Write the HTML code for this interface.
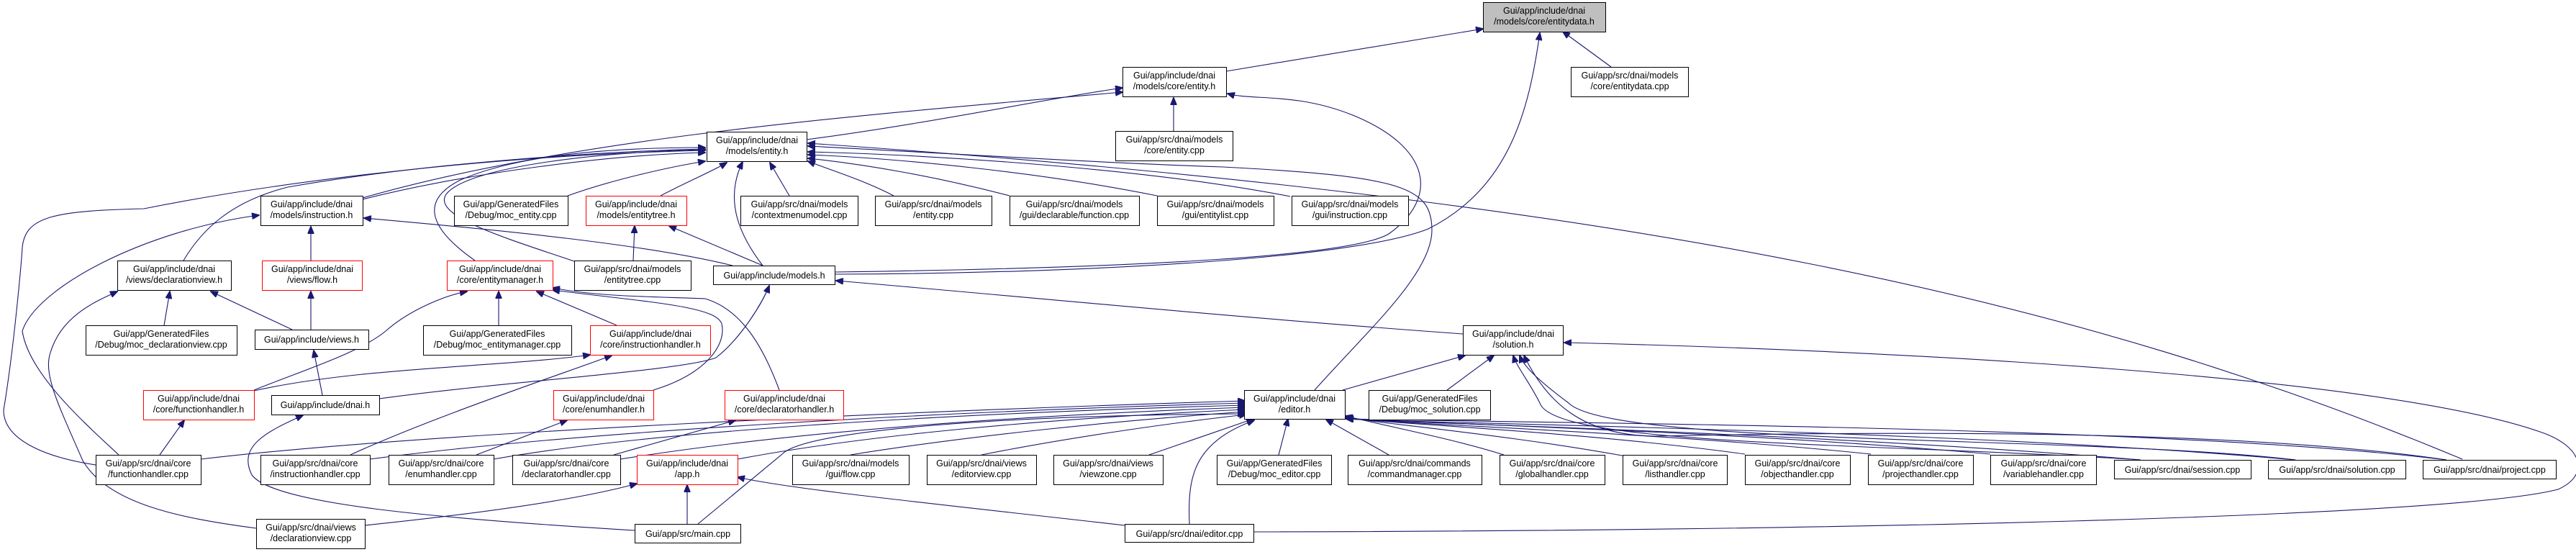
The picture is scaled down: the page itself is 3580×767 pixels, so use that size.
<!DOCTYPE html>
<html><head><meta charset="utf-8"><style>
html,body{margin:0;padding:0;background:#fff;}
svg{display:block;}
text{font-family:"Liberation Sans",Arial,sans-serif;font-size:12.5px;fill:#000;text-anchor:middle;}
.e{fill:none;stroke:#191970;stroke-width:1.1;marker-end:url(#a);}
.n{fill:#fff;stroke:#000;stroke-width:1;}
.r{fill:#fff;stroke:#ff0000;stroke-width:1;}
.g{fill:#bfbfbf;stroke:#000;stroke-width:1;}
</style></head><body>
<svg width="3580" height="767" viewBox="0 0 3580 767" xmlns="http://www.w3.org/2000/svg">
<defs><marker id="a" markerWidth="11" markerHeight="9" refX="10" refY="4.5" orient="auto" markerUnits="userSpaceOnUse"><path d="M0,0 L11,4.5 L0,9z" fill="#191970" stroke="#191970"/></marker></defs>

<!-- edges -->
<path class="e" d="M1704,99 L2061,40"/>
<path class="e" d="M2239,93 L2172,44"/>
<path class="e" d="M1160,381 C1500,380 1880,360 1985,318 C2100,260 2125,150 2140,46"/>
<path class="e" d="M1160,378 C1600,372 1880,355 1930,325 C2000,275 1990,205 1880,160 C1800,128 1740,140 1706,130"/>
<path class="e" d="M1121,194 C1300,170 1450,138 1560,122"/>
<path class="e" d="M504,275 C800,190 1200,160 1560,128"/>
<path class="e" d="M1631,182 L1631,136"/>
<path class="e" d="M1827,542 C1900,460 1990,380 1990,320 C1990,260 1950,245 1700,232 C1500,225 1300,212 1123,203"/>
<path class="e" d="M3422,638 C2900,420 2300,280 1123,199"/>
<path class="e" d="M1743,739 C2500,738 3400,720 3555,680 C3600,660 3590,620 3530,600 C3300,520 2600,486 2174,476"/>
<path class="e" d="M2033,464 C1700,440 1400,410 1162,390"/>
<path class="e" d="M1018,369 C900,340 700,320 506,303"/>
<path class="e" d="M1060,369 C1030,330 1005,280 1032,225"/>
<path class="e" d="M1060,369 L930,314"/>
<path class="e" d="M880,362 L882,314"/>
<path class="e" d="M798,363 C700,330 600,300 620,270 C650,230 850,210 980,208"/>
<path class="e" d="M660,362 C600,320 580,280 640,250 C720,215 850,205 980,205"/>
<path class="e" d="M504,277 C650,240 850,215 980,212"/>
<path class="e" d="M255,362 C280,320 320,280 400,260 C600,225 850,210 980,207"/>
<path class="e" d="M133,646 C60,635 5,610 5,570 C20,480 30,360 31,344 C35,300 77,293 200,290 C400,250 700,215 980,209"/>
<path class="e" d="M165,632 C120,590 40,520 31,460 C50,400 200,320 360,299"/>
<path class="e" d="M789,272 C850,250 930,232 980,224"/>
<path class="e" d="M918,272 C960,250 990,238 1010,226"/>
<path class="e" d="M1097,272 L1070,226"/>
<path class="e" d="M1242,272 C1200,250 1150,235 1123,224"/>
<path class="e" d="M1403,272 C1300,245 1200,228 1123,220"/>
<path class="e" d="M1608,272 C1450,240 1250,220 1123,215"/>
<path class="e" d="M1793,273 C1600,235 1300,215 1123,211"/>
<path class="e" d="M432,362 L432,315"/>
<path class="e" d="M432,458 L432,405"/>
<path class="e" d="M406,458 L293,405"/>
<path class="e" d="M228,452 L236,405"/>
<path class="e" d="M356,734 C250,720 150,700 115,640 C80,560 60,520 70,490 C85,440 130,420 163,405"/>
<path class="e" d="M448,549 L436,487"/>
<path class="e" d="M222,632 L256,584"/>
<path class="e" d="M353,542 C420,515 500,490 536,460 C570,430 620,410 649,405"/>
<path class="e" d="M353,543 C500,510 700,510 820,493"/>
<path class="e" d="M527,554 C700,530 950,515 995,497 C1030,470 1060,420 1069,397"/>
<path class="e" d="M882,737 C600,720 380,700 350,660 C330,620 370,600 421,577"/>
<path class="e" d="M693,452 L693,405"/>
<path class="e" d="M857,452 L746,405"/>
<path class="e" d="M908,542 C980,520 1010,480 1003,450 C995,425 900,420 768,403"/>
<path class="e" d="M1083,542 C1060,480 1030,430 980,415 C900,412 830,412 768,400"/>
<path class="e" d="M487,632 C600,580 780,520 850,494"/>
<path class="e" d="M662,632 L788,584"/>
<path class="e" d="M853,632 L1022,584"/>
<path class="e" d="M955,728 L955,674"/>
<path class="e" d="M507,730 C700,710 820,690 885,672"/>
<path class="e" d="M1563,730 C1300,700 1100,680 1025,663"/>
<path class="e" d="M279,638 C600,600 1300,570 1730,557"/>
<path class="e" d="M514,638 C800,600 1300,572 1730,560"/>
<path class="e" d="M686,638 C900,600 1300,575 1730,563"/>
<path class="e" d="M862,638 C1100,600 1400,578 1730,566"/>
<path class="e" d="M1025,638 C1200,605 1450,582 1730,569"/>
<path class="e" d="M1182,632 C1350,605 1550,585 1730,572"/>
<path class="e" d="M1364,632 C1500,605 1650,585 1732,576"/>
<path class="e" d="M1597,632 L1742,582"/>
<path class="e" d="M1777,632 L1790,582"/>
<path class="e" d="M1930,632 L1843,583"/>
<path class="e" d="M2090,632 C2020,610 1940,595 1870,578"/>
<path class="e" d="M2260,634 C2100,605 1950,592 1870,580"/>
<path class="e" d="M2425,631 C2200,600 1950,590 1871,581"/>
<path class="e" d="M2600,631 C2300,600 1950,590 1871,581"/>
<path class="e" d="M2766,631 C2400,598 1950,588 1871,581"/>
<path class="e" d="M2975,639 C2500,600 1950,588 1871,582"/>
<path class="e" d="M3190,639 C2700,596 1950,588 1871,582"/>
<path class="e" d="M3400,639 C3000,590 2100,588 1871,582"/>
<path class="e" d="M970,728 L1087,631 C1120,597 1400,577 1730,575"/>
<path class="e" d="M1653,728 C1650,660 1660,615 1743,584"/>
<path class="e" d="M1866,542 L2036,494"/>
<path class="e" d="M2011,542 L2076,494"/>
<path class="e" d="M2975,639 C2600,615 2160,620 2140,560 C2125,530 2108,510 2103,494"/>
<path class="e" d="M3190,639 C2900,605 2240,620 2180,560 C2140,530 2118,510 2112,494"/>
<path class="e" d="M3400,639 C3100,595 2600,600 2300,606 C2200,605 2150,560 2118,494"/>

<!-- nodes -->
<g>
<rect class="g" x="2061.5" y="3.5" width="170" height="41"/><text x="2146" y="19">Gui/app/include/dnai</text><text x="2146" y="34">/models/core/entitydata.h</text>
<rect class="n" x="1560.5" y="93.5" width="144" height="41"/><text x="1632" y="109">Gui/app/include/dnai</text><text x="1632" y="124">/models/core/entity.h</text>
<rect class="n" x="2183.5" y="93.5" width="163" height="41"/><text x="2265" y="109">Gui/app/src/dnai/models</text><text x="2265" y="124">/core/entitydata.cpp</text>
<rect class="n" x="982.5" y="183.5" width="139" height="41"/><text x="1052" y="199">Gui/app/include/dnai</text><text x="1052" y="214">/models/entity.h</text>
<rect class="n" x="1550.5" y="182.5" width="163" height="41"/><text x="1632" y="198">Gui/app/src/dnai/models</text><text x="1632" y="213">/core/entity.cpp</text>

<rect class="n" x="362.5" y="272.5" width="142" height="41"/><text x="433" y="288">Gui/app/include/dnai</text><text x="433" y="303">/models/instruction.h</text>
<rect class="n" x="631.5" y="272.5" width="158" height="41"/><text x="710" y="288">Gui/app/GeneratedFiles</text><text x="710" y="303">/Debug/moc_entity.cpp</text>
<rect class="r" x="814.5" y="272.5" width="140" height="41"/><text x="884" y="288">Gui/app/include/dnai</text><text x="884" y="303">/models/entitytree.h</text>
<rect class="n" x="1029.5" y="272.5" width="163" height="41"/><text x="1111" y="288">Gui/app/src/dnai/models</text><text x="1111" y="303">/contextmenumodel.cpp</text>
<rect class="n" x="1216.5" y="272.5" width="162" height="41"/><text x="1297" y="288">Gui/app/src/dnai/models</text><text x="1297" y="303">/entity.cpp</text>
<rect class="n" x="1403.5" y="272.5" width="180" height="41"/><text x="1493" y="288">Gui/app/src/dnai/models</text><text x="1493" y="303">/gui/declarable/function.cpp</text>
<rect class="n" x="1608.5" y="272.5" width="162" height="41"/><text x="1689" y="288">Gui/app/src/dnai/models</text><text x="1689" y="303">/gui/entitylist.cpp</text>
<rect class="n" x="1795.5" y="272.5" width="162" height="41"/><text x="1876" y="288">Gui/app/src/dnai/models</text><text x="1876" y="303">/gui/instruction.cpp</text>

<rect class="n" x="163.5" y="362.5" width="158" height="41"/><text x="242" y="378">Gui/app/include/dnai</text><text x="242" y="393">/views/declarationview.h</text>
<rect class="r" x="364.5" y="362.5" width="139" height="41"/><text x="434" y="378">Gui/app/include/dnai</text><text x="434" y="393">/views/flow.h</text>
<rect class="r" x="621.5" y="362.5" width="147" height="41"/><text x="695" y="378">Gui/app/include/dnai</text><text x="695" y="393">/core/entitymanager.h</text>
<rect class="n" x="798.5" y="362.5" width="162" height="41"/><text x="879" y="378">Gui/app/src/dnai/models</text><text x="879" y="393">/entitytree.cpp</text>
<rect class="n" x="991.5" y="369.5" width="169" height="26"/><text x="1076" y="387">Gui/app/include/models.h</text>

<rect class="n" x="119.5" y="452.5" width="210" height="41"/><text x="224" y="468">Gui/app/GeneratedFiles</text><text x="224" y="483">/Debug/moc_declarationview.cpp</text>
<rect class="n" x="354.5" y="458.5" width="158" height="27"/><text x="433" y="476">Gui/app/include/views.h</text>
<rect class="n" x="588.5" y="452.5" width="206" height="41"/><text x="691" y="468">Gui/app/GeneratedFiles</text><text x="691" y="483">/Debug/moc_entitymanager.cpp</text>
<rect class="r" x="820.5" y="452.5" width="167" height="41"/><text x="904" y="468">Gui/app/include/dnai</text><text x="904" y="483">/core/instructionhandler.h</text>
<rect class="n" x="2033.5" y="452.5" width="139" height="41"/><text x="2103" y="468">Gui/app/include/dnai</text><text x="2103" y="483">/solution.h</text>

<rect class="r" x="199.5" y="542.5" width="154" height="41"/><text x="276" y="558">Gui/app/include/dnai</text><text x="276" y="573">/core/functionhandler.h</text>
<rect class="n" x="377.5" y="549.5" width="150" height="27"/><text x="452" y="567">Gui/app/include/dnai.h</text>
<rect class="r" x="769.5" y="542.5" width="139" height="41"/><text x="839" y="558">Gui/app/include/dnai</text><text x="839" y="573">/core/enumhandler.h</text>
<rect class="r" x="1007.5" y="542.5" width="165" height="41"/><text x="1090" y="558">Gui/app/include/dnai</text><text x="1090" y="573">/core/declaratorhandler.h</text>
<rect class="n" x="1729.5" y="542.5" width="140" height="40"/><text x="1799" y="558">Gui/app/include/dnai</text><text x="1799" y="573">/editor.h</text>
<rect class="n" x="1902.5" y="542.5" width="169" height="41"/><text x="1987" y="558">Gui/app/GeneratedFiles</text><text x="1987" y="573">/Debug/moc_solution.cpp</text>

<rect class="n" x="133.5" y="632.5" width="146" height="41"/><text x="206" y="648">Gui/app/src/dnai/core</text><text x="206" y="663">/functionhandler.cpp</text>
<rect class="n" x="362.5" y="632.5" width="152" height="41"/><text x="438" y="648">Gui/app/src/dnai/core</text><text x="438" y="663">/instructionhandler.cpp</text>
<rect class="n" x="540.5" y="632.5" width="146" height="41"/><text x="613" y="648">Gui/app/src/dnai/core</text><text x="613" y="663">/enumhandler.cpp</text>
<rect class="n" x="712.5" y="632.5" width="150" height="41"/><text x="787" y="648">Gui/app/src/dnai/core</text><text x="787" y="663">/declaratorhandler.cpp</text>
<rect class="r" x="885.5" y="632.5" width="140" height="41"/><text x="955" y="648">Gui/app/include/dnai</text><text x="955" y="663">/app.h</text>
<rect class="n" x="1101.5" y="632.5" width="162" height="41"/><text x="1182" y="648">Gui/app/src/dnai/models</text><text x="1182" y="663">/gui/flow.cpp</text>
<rect class="n" x="1288.5" y="632.5" width="152" height="41"/><text x="1364" y="648">Gui/app/src/dnai/views</text><text x="1364" y="663">/editorview.cpp</text>
<rect class="n" x="1464.5" y="632.5" width="152" height="41"/><text x="1540" y="648">Gui/app/src/dnai/views</text><text x="1540" y="663">/viewzone.cpp</text>
<rect class="n" x="1691.5" y="632.5" width="159" height="41"/><text x="1771" y="648">Gui/app/GeneratedFiles</text><text x="1771" y="663">/Debug/moc_editor.cpp</text>
<rect class="n" x="1873.5" y="632.5" width="186" height="41"/><text x="1966" y="648">Gui/app/src/dnai/commands</text><text x="1966" y="663">/commandmanager.cpp</text>
<rect class="n" x="2084.5" y="632.5" width="146" height="41"/><text x="2157" y="648">Gui/app/src/dnai/core</text><text x="2157" y="663">/globalhandler.cpp</text>
<rect class="n" x="2255.5" y="632.5" width="145" height="41"/><text x="2328" y="648">Gui/app/src/dnai/core</text><text x="2328" y="663">/listhandler.cpp</text>
<rect class="n" x="2425.5" y="632.5" width="146" height="41"/><text x="2498" y="648">Gui/app/src/dnai/core</text><text x="2498" y="663">/objecthandler.cpp</text>
<rect class="n" x="2596.5" y="632.5" width="146" height="41"/><text x="2669" y="648">Gui/app/src/dnai/core</text><text x="2669" y="663">/projecthandler.cpp</text>
<rect class="n" x="2766.5" y="632.5" width="147" height="41"/><text x="2840" y="648">Gui/app/src/dnai/core</text><text x="2840" y="663">/variablehandler.cpp</text>
<rect class="n" x="2938.5" y="639.5" width="190" height="26"/><text x="3033" y="657">Gui/app/src/dnai/session.cpp</text>
<rect class="n" x="3152.5" y="639.5" width="191" height="26"/><text x="3248" y="657">Gui/app/src/dnai/solution.cpp</text>
<rect class="n" x="3367.5" y="639.5" width="185" height="26"/><text x="3460" y="657">Gui/app/src/dnai/project.cpp</text>

<rect class="n" x="356.5" y="721.5" width="151" height="41"/><text x="432" y="737">Gui/app/src/dnai/views</text><text x="432" y="752">/declarationview.cpp</text>
<rect class="n" x="882.5" y="728.5" width="147" height="26"/><text x="956" y="746">Gui/app/src/main.cpp</text>
<rect class="n" x="1563.5" y="728.5" width="179" height="25"/><text x="1653" y="746">Gui/app/src/dnai/editor.cpp</text>
</g>
</svg>
</body></html>
